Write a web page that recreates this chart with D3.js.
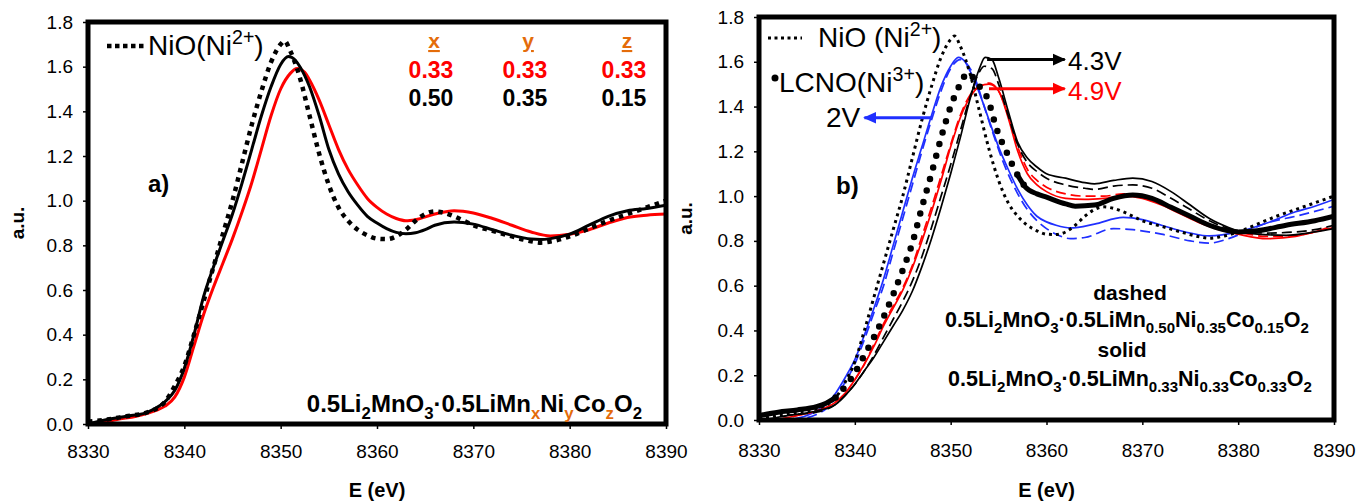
<!DOCTYPE html>
<html lang="en">
<head>
<meta charset="UTF-8">
<title>Ni K-edge XANES</title>
<script src="https://cdn.jsdelivr.net/npm/d3@7"></script>
<style>
  body{margin:0;background:#fff;}
  svg{display:block;font-family:Arial,"Liberation Sans",sans-serif;}
  .tick text{font-size:19px;fill:#000;}
</style>
</head>
<body>
<svg width="1358" height="502"></svg>
<script>
// ---- axis ticks ----
var eTicks = [8330, 8340, 8350, 8360, 8370, 8380, 8390];
var auTicks = [0, 0.2, 0.4, 0.6, 0.8, 1.0, 1.2, 1.4, 1.6, 1.8];

// ---- NiO reference (Ni2+), same in both panels ----
var nioE = [8330,8332,8334,8336,8338,8339,8340,8341,8342,8343,8344,8345,8346,8347,8348,8349,8350,8350.4,8351,8352,8353,8354,8355,8356,8357,8358,8359,8360,8361,8362,8363,8364,8365,8366,8367,8368,8369,8370,8372,8374,8376,8377,8378,8380,8382,8384,8386,8388,8390];
var nioV = [0.01,0.02,0.035,0.05,0.10,0.17,0.26,0.40,0.55,0.70,0.85,1.0,1.17,1.34,1.49,1.62,1.70,1.715,1.67,1.55,1.38,1.21,1.07,0.97,0.91,0.87,0.845,0.83,0.828,0.84,0.87,0.91,0.94,0.952,0.945,0.93,0.91,0.89,0.865,0.84,0.818,0.812,0.817,0.84,0.875,0.91,0.94,0.97,1.0];

// ---- panel a) pristine ----
var a50E = [8330,8332,8334,8336,8337,8338,8339,8340,8341,8342,8343,8344,8345,8346,8347,8348,8349,8350,8350.8,8351.5,8352,8353,8354,8355,8356,8357,8358,8359,8360,8361,8362,8363,8364,8365,8366,8368,8370,8372,8374,8376,8377,8378,8380,8382,8384,8386,8388,8390];
var a50V = [0.0,0.02,0.035,0.05,0.07,0.10,0.15,0.25,0.40,0.57,0.70,0.82,0.94,1.08,1.23,1.38,1.51,1.61,1.645,1.63,1.60,1.51,1.38,1.23,1.12,1.04,0.98,0.93,0.90,0.875,0.858,0.852,0.856,0.87,0.89,0.905,0.895,0.87,0.845,0.828,0.826,0.83,0.85,0.89,0.93,0.955,0.965,0.98];
var a33E = [8331,8333,8335,8337,8338,8339,8340,8341,8342,8343,8344,8345,8346,8347,8348,8349,8350,8351,8351.7,8352.5,8353,8354,8355,8356,8357,8358,8359,8360,8361,8362,8363,8364,8366,8368,8370,8372,8374,8376,8378,8380,8382,8384,8386,8388,8390];
var a33V = [0.0,0.02,0.035,0.06,0.08,0.12,0.21,0.35,0.49,0.61,0.72,0.83,0.95,1.08,1.23,1.38,1.50,1.57,1.592,1.575,1.54,1.45,1.34,1.23,1.14,1.07,1.01,0.97,0.94,0.92,0.91,0.915,0.94,0.955,0.945,0.92,0.89,0.86,0.842,0.85,0.87,0.90,0.925,0.935,0.94];

// ---- panel b) reference LCNO (Ni3+) ----
var lcnoE = [8330,8332,8334,8336,8337,8338,8339,8340,8341,8342,8343,8344,8345,8346,8347,8348,8349,8350,8351,8351.8,8352.8,8353.9,8354.8,8355.9,8356.9,8357.8,8359,8360,8362,8363,8365,8367,8369,8371,8373,8375,8377,8379,8380,8382,8385,8388,8390];
var lcnoV = [0.02,0.035,0.045,0.06,0.075,0.10,0.15,0.21,0.29,0.37,0.46,0.56,0.67,0.79,0.95,1.10,1.26,1.40,1.50,1.55,1.50,1.43,1.30,1.19,1.10,1.04,1.01,0.995,0.965,0.955,0.96,0.99,1.005,0.99,0.95,0.91,0.87,0.845,0.84,0.845,0.87,0.89,0.91];

// ---- panel b) 2V (blue) ----
var b2sE = [8333,8335,8336,8337,8338,8339,8340,8341,8342,8343,8344,8345,8346,8347,8348,8349,8350,8350.8,8351.5,8352,8353,8354,8355,8356,8357,8358,8359,8360,8361,8362.5,8365,8368,8370,8372,8375,8377,8380,8383,8386,8388,8390];
var b2sV = [0.0,0.02,0.04,0.07,0.12,0.19,0.27,0.38,0.50,0.63,0.78,0.93,1.08,1.22,1.36,1.49,1.58,1.62,1.60,1.56,1.46,1.34,1.22,1.12,1.03,0.96,0.91,0.885,0.87,0.858,0.875,0.905,0.895,0.87,0.835,0.822,0.84,0.88,0.93,0.955,0.985];
var b2dE = [8333.5,8336,8337,8338,8339,8340,8341,8342,8343,8344,8345,8346,8347,8348,8349,8350,8351,8351.7,8352.5,8353.5,8354.5,8355.5,8357,8358,8359,8360,8361,8362.5,8364,8367,8369,8372,8375,8377,8379,8381,8383,8386,8390];
var b2dV = [0.0,0.025,0.05,0.10,0.17,0.25,0.36,0.48,0.60,0.75,0.90,1.05,1.20,1.34,1.47,1.57,1.61,1.59,1.53,1.40,1.27,1.15,1.01,0.94,0.89,0.855,0.83,0.81,0.815,0.855,0.85,0.83,0.80,0.79,0.81,0.845,0.88,0.91,0.955];

// ---- panel b) 4.3V (black) ----
var b43sE = [8330.5,8333,8336,8338,8339,8340,8341,8342,8343,8344,8345,8346,8347,8348,8349,8350,8351,8352,8353,8353.6,8354.3,8355,8356,8357,8358,8359,8360,8362,8364,8365,8367,8369,8371,8373,8375,8377,8379,8380,8382,8385,8388,8390];
var b43sV = [0.0,0.02,0.04,0.07,0.11,0.16,0.22,0.28,0.35,0.42,0.49,0.575,0.685,0.81,0.95,1.10,1.26,1.43,1.57,1.62,1.61,1.53,1.38,1.24,1.17,1.13,1.10,1.08,1.06,1.055,1.07,1.08,1.065,1.02,0.96,0.90,0.86,0.845,0.83,0.825,0.84,0.855];
var b43dE = [8331,8333,8336,8338,8339,8340,8341,8342,8343,8344,8345,8346,8347,8348,8349,8350,8351,8352,8353,8353.5,8354.3,8355,8356,8357,8358,8359,8360,8362,8364,8365,8367,8369,8371,8373,8375,8377,8379,8380,8383,8386,8388,8390];
var b43dV = [0.0,0.02,0.035,0.07,0.11,0.16,0.22,0.29,0.37,0.45,0.53,0.62,0.73,0.86,1.00,1.14,1.29,1.44,1.555,1.58,1.57,1.50,1.36,1.23,1.15,1.11,1.08,1.05,1.035,1.03,1.045,1.05,1.035,0.99,0.94,0.89,0.855,0.845,0.835,0.84,0.85,0.87];

// ---- panel b) 4.9V (red) ----
var b49sE = [8331.5,8334,8336,8338,8339,8340,8341,8342,8343,8344,8345,8346,8347,8348,8349,8350,8351,8352,8353,8354,8355,8356,8357,8358,8359,8360,8362,8364,8366,8368,8370,8372,8374,8376,8378,8380,8383,8386,8388,8390];
var b49sV = [0.0,0.02,0.04,0.08,0.12,0.18,0.25,0.33,0.42,0.50,0.58,0.68,0.80,0.93,1.07,1.22,1.35,1.44,1.49,1.50,1.47,1.35,1.20,1.10,1.05,1.02,0.99,0.985,0.99,1.0,0.99,0.96,0.92,0.88,0.85,0.83,0.81,0.82,0.84,0.86];
var b49dE = [8332,8334,8336,8338,8339,8340,8341,8342,8343,8344,8345,8346,8347,8348,8349,8350,8351,8352,8353,8353.5,8354,8355,8356,8357,8358,8359,8360,8362,8364,8366,8368,8370,8372,8374,8376,8378,8380,8383,8386,8388,8390];
var b49dV = [0.0,0.02,0.04,0.08,0.12,0.18,0.25,0.34,0.43,0.51,0.59,0.69,0.82,0.95,1.09,1.23,1.36,1.45,1.49,1.50,1.505,1.47,1.36,1.22,1.12,1.07,1.04,1.01,1.0,1.0,1.01,1.0,0.97,0.93,0.89,0.86,0.84,0.82,0.825,0.84,0.87];

var RED = "#ff0000", BLUE = "#1f2fff", ORANGE = "#e46c0a";

var svg = d3.select("svg");
var defs = svg.append("defs");

function pairs(E, V){ return E.map(function(e, i){ return [e, V[i]]; }); }

// text with sub/superscripts: parts = [[text, "sub"|"sup"|"", color]]
function richText(g, x, y, parts, size, opts){
    opts = opts || {};
    var t = g.append("text").attr("x", x).attr("y", y)
        .attr("font-size", size)
        .attr("font-weight", opts.bold ? "bold" : "normal")
        .attr("text-anchor", opts.anchor || "start");
    var shift = 0;
    parts.forEach(function(p){
        var want = p[1] === "sub" ? size * 0.28 : (p[1] === "sup" ? -size * 0.38 : 0);
        var ts = t.append("tspan").text(p[0]).attr("dy", want - shift);
        if (p[1]) ts.attr("font-size", size * 0.7);
        if (p[2]) ts.attr("fill", p[2]);
        shift = want;
    });
    return t;
}

function arrowMarker(id, color){
    defs.append("marker")
        .attr("id", id)
        .attr("viewBox", "0 -5 10 10")
        .attr("refX", 9).attr("refY", 0)
        .attr("markerUnits", "userSpaceOnUse")
        .attr("markerWidth", 13).attr("markerHeight", 13)
        .attr("orient", "auto")
        .append("path").attr("d", "M0,-4.5L10,0L0,4.5Z").attr("fill", color);
}
arrowMarker("arBlack", "#000");
arrowMarker("arRed", RED);
arrowMarker("arBlue", BLUE);

function makePanel(id, box){
    var x = d3.scaleLinear().domain([8330, 8390]).range([box.left, box.right]);
    var y = d3.scaleLinear().domain([0, 1.8]).range([box.bottom, box.top]);
    var g = svg.append("g");

    defs.append("clipPath").attr("id", "clip" + id)
        .append("rect").attr("x", box.left).attr("y", box.top)
        .attr("width", box.right - box.left).attr("height", box.bottom - box.top);

    g.append("g").attr("transform", "translate(0," + box.bottom + ")")
        .call(d3.axisBottom(x).tickValues(eTicks).tickSize(5).tickPadding(box.xpad).tickFormat(d3.format("d")))
        .call(function(a){ a.select(".domain").remove(); a.selectAll("line").attr("stroke-width", 1.5); });
    g.append("g").attr("transform", "translate(" + box.left + ",0)")
        .call(d3.axisLeft(y).tickValues(auTicks).tickSize(5).tickPadding(10).tickFormat(d3.format(".1f")))
        .call(function(a){ a.select(".domain").remove(); a.selectAll("line").attr("stroke-width", 1.5); });

    g.append("text").attr("transform", "translate(" + box.ylab + "," + ((box.top + box.bottom) / 2) + ") rotate(-90)")
        .attr("text-anchor", "middle").attr("font-size", 19).attr("font-weight", "bold").text("a.u.");
    g.append("text").attr("x", (box.left + box.right) / 2).attr("y", 497)
        .attr("text-anchor", "middle").attr("font-size", 20).attr("font-weight", "bold").text("E (eV)");

    var plot = g.append("g").attr("clip-path", "url(#clip" + id + ")");
    return {x: x, y: y, g: g, plot: plot, box: box};
}

function curve(P, data, style){
    var line = d3.line().x(function(d){ return P.x(d[0]); }).y(function(d){ return P.y(d[1]); })
        .curve(d3.curveMonotoneX);
    if (style.defined) line.defined(style.defined);
    return P.plot.append("path").datum(data).attr("d", line)
        .attr("fill", "none").attr("stroke", style.color)
        .attr("stroke-width", style.width)
        .attr("stroke-dasharray", style.dash || null)
        .attr("stroke-linecap", style.cap || "butt")
        .attr("stroke-linejoin", "round");
}

function frame(P){
    var b = P.box;
    P.g.append("rect").attr("x", b.left).attr("y", b.top)
        .attr("width", b.right - b.left).attr("height", b.bottom - b.top)
        .attr("fill", "none").attr("stroke", "#000").attr("stroke-width", 5);
}

// ================= panel a =================
var A = makePanel("A", {left: 88, right: 666, top: 22, bottom: 424, ylab: 24, xpad: 16});
curve(A, pairs(a33E, a33V), {color: RED, width: 3});
curve(A, pairs(a50E, a50V), {color: "#000", width: 3});
curve(A, pairs(nioE, nioV), {color: "#000", width: 4.5, dash: "4.5 5"});
frame(A);

A.g.append("line").attr("x1", 107).attr("x2", 145).attr("y1", 46).attr("y2", 46)
    .attr("stroke", "#000").attr("stroke-width", 4.5).attr("stroke-dasharray", "4.5 3.5");
richText(A.g, 148, 55, [["NiO(Ni", ""], ["2+", "sup"], [")", ""]], 28);
richText(A.g, 148, 192, [["a)", ""]], 24, {bold: true});

var compCols = ["x", "y", "z"];
var compRed = ["0.33", "0.33", "0.33"];
var compBlack = ["0.50", "0.35", "0.15"];
var compX = [431, 525, 624];
compCols.forEach(function(c, i){
    A.g.append("text").attr("x", compX[i] + 3).attr("y", 48).attr("text-anchor", "middle")
        .attr("font-size", 21).attr("font-weight", "bold").attr("fill", ORANGE)
        .attr("text-decoration", "underline").text(c);
    A.g.append("text").attr("x", compX[i]).attr("y", 78).attr("text-anchor", "middle")
        .attr("font-size", 23).attr("font-weight", "bold").attr("fill", RED).text(compRed[i]);
    A.g.append("text").attr("x", compX[i]).attr("y", 106).attr("text-anchor", "middle")
        .attr("font-size", 23).attr("font-weight", "bold").attr("fill", "#000").text(compBlack[i]);
});
richText(A.g, 642, 412, [["0.5Li", ""], ["2", "sub"], ["MnO", ""], ["3", "sub"], ["\u00b70.5LiMn", ""],
    ["x", "sub", ORANGE], ["Ni", ""], ["y", "sub", ORANGE], ["Co", ""], ["z", "sub", ORANGE], ["O", ""], ["2", "sub"]],
    24, {bold: true, anchor: "end"});

// ================= panel b =================
var B = makePanel("B", {left: 759, right: 1334, top: 17, bottom: 420, ylab: 692, xpad: 19});
var lcno = pairs(lcnoE, lcnoV);
curve(B, pairs(b2dE, b2dV), {color: BLUE, width: 1.7, dash: "10 5"});
curve(B, pairs(b2sE, b2sV), {color: BLUE, width: 1.7});
curve(B, pairs(b49dE, b49dV), {color: RED, width: 1.7, dash: "10 5"});
curve(B, pairs(b49sE, b49sV), {color: RED, width: 1.7});
curve(B, pairs(b43dE, b43dV), {color: "#000", width: 1.7, dash: "10 5"});
curve(B, pairs(b43sE, b43sV), {color: "#000", width: 1.7});
curve(B, lcno, {color: "#000", width: 5, defined: function(d){ return d[0] <= 8338 || d[0] >= 8356.9; }});
curve(B, lcno.filter(function(d){ return d[0] >= 8337.5 && d[0] <= 8358; }),
    {color: "#000", width: 6.5, dash: "0 12", cap: "round"});
curve(B, pairs(nioE, nioV), {color: "#000", width: 3, dash: "3 4"});
frame(B);

B.g.append("line").attr("x1", 768).attr("x2", 802).attr("y1", 38).attr("y2", 38)
    .attr("stroke", "#000").attr("stroke-width", 3).attr("stroke-dasharray", "3 3.5");
richText(B.g, 818, 47, [["NiO (Ni", ""], ["2+", "sup"], [")", ""]], 28);
B.g.append("circle").attr("cx", 775).attr("cy", 78).attr("r", 3.5).attr("fill", "#000");
richText(B.g, 779, 92, [["LCNO(Ni", ""], ["3+", "sup"], [")", ""]], 28);
richText(B.g, 836, 194, [["b)", ""]], 24, {bold: true});

// voltage arrows, anchored on the curves
function voltArrow(e0, e1, v, marker, color){
    B.g.append("line").attr("x1", B.x(e0)).attr("x2", B.x(e1)).attr("y1", B.y(v)).attr("y2", B.y(v))
        .attr("stroke", color).attr("stroke-width", 3).attr("marker-end", "url(#" + marker + ")");
}
voltArrow(8353.8, 8361.9, 1.61, "arBlack", "#000");
voltArrow(8354.0, 8361.9, 1.48, "arRed", RED);
voltArrow(8348.0, 8341.0, 1.35, "arBlue", BLUE);
B.g.append("text").attr("x", 1068).attr("y", 70).attr("font-size", 26).text("4.3V");
B.g.append("text").attr("x", 1068).attr("y", 100).attr("font-size", 26).attr("fill", RED).text("4.9V");
B.g.append("text").attr("x", 826).attr("y", 127).attr("font-size", 28).text("2V");

B.g.append("text").attr("x", 1130).attr("y", 300).attr("text-anchor", "middle")
    .attr("font-size", 21).attr("font-weight", "bold").text("dashed");
richText(B.g, 1127, 327, [["0.5Li", ""], ["2", "sub"], ["MnO", ""], ["3", "sub"], ["\u00b70.5LiMn", ""],
    ["0.50", "sub"], ["Ni", ""], ["0.35", "sub"], ["Co", ""], ["0.15", "sub"], ["O", ""], ["2", "sub"]],
    21.5, {bold: true, anchor: "middle"});
B.g.append("text").attr("x", 1122).attr("y", 357).attr("text-anchor", "middle")
    .attr("font-size", 21).attr("font-weight", "bold").text("solid");
richText(B.g, 1130, 386, [["0.5Li", ""], ["2", "sub"], ["MnO", ""], ["3", "sub"], ["\u00b70.5LiMn", ""],
    ["0.33", "sub"], ["Ni", ""], ["0.33", "sub"], ["Co", ""], ["0.33", "sub"], ["O", ""], ["2", "sub"]],
    21.5, {bold: true, anchor: "middle"});
</script>
</body>
</html>
